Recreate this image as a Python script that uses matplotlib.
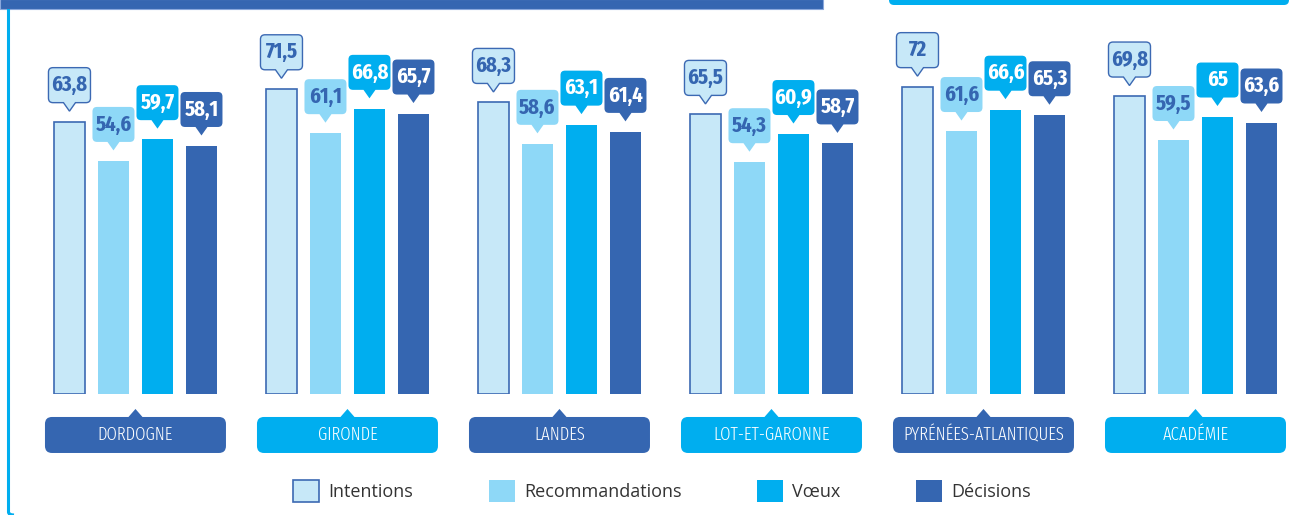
import os
import matplotlib
matplotlib.use('Agg')
import matplotlib.pyplot as plt
from matplotlib import font_manager
from matplotlib.path import Path
from matplotlib.patches import PathPatch, Patch, Rectangle, FancyBboxPatch
from matplotlib.transforms import ScaledTranslation

# données (taux en %)
departements = ['DORDOGNE', 'GIRONDE', 'LANDES', 'LOT-ET-GARONNE',
                'PYRÉNÉES-ATLANTIQUES', 'ACADÉMIE']
series = ['Intentions', 'Recommandations', 'Vœux', 'Décisions']
intentions = [63.8, 71.5, 68.3, 65.5, 72, 69.8]
recommandations = [54.6, 61.1, 58.6, 54.3, 61.6, 59.5]
voeux = [59.7, 66.8, 63.1, 60.9, 66.6, 65]
decisions = [58.1, 65.7, 61.4, 58.7, 65.3, 63.6]

BLEU = '#3566B1'
CYAN = '#00AEEF'
CLAIR = '#8ED8F7'
PALE = '#C7E8F8'
BORD = '#3C69B3'

couleurs = [PALE, CLAIR, CYAN, BLEU]
bords = [BORD, 'none', 'none', 'none']
couleurs_texte = [BLEU, BLEU, 'white', 'white']


# police condensée si dispo (la plus étroite d'abord)
def police_condensee(poids):
    best = None
    pref = ['Roboto', 'Open Sans', 'Noto Sans', 'Liberation', 'DejaVu']
    largeurs = ['ExtraCondensed', 'Condensed', 'Narrow']
    for f in font_manager.fontManager.ttflist:
        base = os.path.basename(f.fname).replace('_', '').replace('-', '')
        if f.style != 'normal' or 'Italic' in base:
            continue
        if 'Ultra' in base or 'SemiCondensed' in base:
            continue
        lg = next((k for k, t in enumerate(largeurs) if t in base or t in f.name.replace(' ', '')),
                  None)
        if lg is None:
            continue
        w = f.weight if isinstance(f.weight, int) else font_manager.weight_dict.get(f.weight, 400)
        rang = next((i for i, p in enumerate(pref) if p in f.name), len(pref))
        cle = (lg, rang, abs(w - poids))
        if best is None or cle < best[0]:
            best = (cle, f.fname)
    if best is None:
        return font_manager.FontProperties(family='DejaVu Sans',
                                           weight='bold' if poids >= 600 else 'normal')
    return font_manager.FontProperties(fname=best[1])


fp_val = police_condensee(700)
fp_cat = police_condensee(300)


def bulle(w, h, r, tw, th, gap, haut=True):
    # bulle avec pointe, origine = point d'ancrage, en pouces
    s = 1 if haut else -1
    t = gap * s
    y0 = (gap + th) * s
    y1 = (gap + th + h) * s
    verts = [(0, t), (tw / 2, y0), (w / 2 - r, y0), (w / 2, y0), (w / 2, y0 + s * r),
             (w / 2, y1 - s * r), (w / 2, y1), (w / 2 - r, y1), (-w / 2 + r, y1),
             (-w / 2, y1), (-w / 2, y1 - s * r), (-w / 2, y0 + s * r), (-w / 2, y0),
             (-w / 2 + r, y0), (-tw / 2, y0), (0, t)]
    codes = [Path.MOVETO, Path.LINETO, Path.LINETO, Path.CURVE3, Path.CURVE3,
             Path.LINETO, Path.CURVE3, Path.CURVE3, Path.LINETO, Path.CURVE3,
             Path.CURVE3, Path.LINETO, Path.CURVE3, Path.CURVE3, Path.LINETO,
             Path.CLOSEPOLY]
    return Path(verts, codes)


fig = plt.figure(figsize=(13.14, 5.15), dpi=100)
ax = fig.add_axes([0, 0.235, 1, 0.765])
ax.set_xlim(-0.639, 5.559)
ax.set_ylim(0, 92.3)
ax.axis('off')

valeurs = [intentions, recommandations, voeux, decisions]
pas = 44 / 212
larg = 31 / 212

for j, vals in enumerate(valeurs):
    xs = [i + (j - 1.5) * pas for i in range(len(departements))]
    ax.bar(xs, vals, width=larg, color=couleurs[j], edgecolor=bords[j],
           linewidth=1.2 if j == 0 else 0, label=series[j])
    for x, v in zip(xs, vals):
        tr = fig.dpi_scale_trans + ScaledTranslation(x, v, ax.transData)
        ax.add_patch(PathPatch(bulle(0.42, 0.35, 0.045, 0.12, 0.085, 0.105),
                               transform=tr, facecolor=couleurs[j],
                               edgecolor=bords[j], linewidth=1.0, clip_on=False))
        txt = f'{v:g}'.replace('.', ',')
        ax.annotate(txt, (x, v), xytext=(0, (0.105 + 0.085 + 0.175) * 72),
                    textcoords='offset points', ha='center', va='center',
                    color=couleurs_texte[j], fontproperties=fp_val, fontsize=16,
                    annotation_clip=False)

# étiquettes des départements
for i, nom in enumerate(departements):
    coul = BLEU if i % 2 == 0 else CYAN
    tr = fig.dpi_scale_trans + ScaledTranslation(i, 0, ax.transData)
    ax.add_patch(PathPatch(bulle(1.81, 0.36, 0.07, 0.14, 0.08, 0.15, haut=False),
                           transform=tr, facecolor=coul, edgecolor='none',
                           clip_on=False))
    ax.annotate(nom, (i, 0), xytext=(0, -(0.15 + 0.08 + 0.18) * 72),
                textcoords='offset points', ha='center', va='center',
                color='white', fontproperties=fp_cat, fontsize=13,
                annotation_clip=False)

# légende
poignees = [Patch(facecolor=couleurs[j], edgecolor=bords[j], linewidth=1.2)
            for j in range(4)]
fig.legend(poignees, series, loc='center', bbox_to_anchor=(662 / 1314, 24 / 515),
           ncol=4, frameon=False, prop={'family': 'Open Sans', 'size': 13},
           labelcolor='#333333', handlelength=1.44, handleheight=1.44,
           handletextpad=0.5, columnspacing=4.2)

# décor du cadre
H = 5.15
fig.patches.append(Rectangle((0, H - 0.09), 8.23, 0.1, transform=fig.dpi_scale_trans,
                             facecolor=BLEU, edgecolor='#8AA8DC', linewidth=0.8))
fig.patches.append(FancyBboxPatch((8.89, H - 0.05), 4.0, 0.2,
                                  boxstyle='round,pad=0,rounding_size=0.05',
                                  transform=fig.dpi_scale_trans,
                                  facecolor=CYAN, edgecolor='none'))
cadre = Path([(0.085, H - 0.09), (0.085, 0.03), (0.085, 0.0), (0.14, 0.0)],
             [Path.MOVETO, Path.LINETO, Path.CURVE3, Path.CURVE3])
fig.patches.append(PathPatch(cadre, transform=fig.dpi_scale_trans, facecolor='none',
                             edgecolor=CYAN, linewidth=2.2))

fig.savefig('out.png', dpi=100)
